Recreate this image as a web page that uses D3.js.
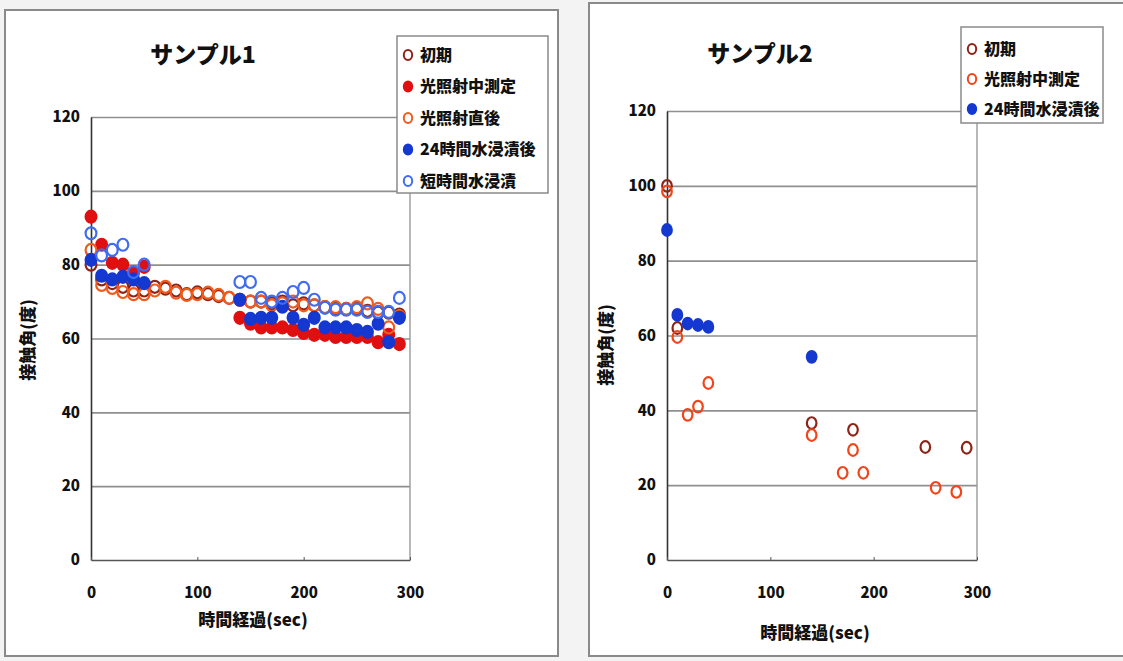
<!DOCTYPE html>
<html lang="ja">
<head>
<meta charset="utf-8">
<script src="https://cdn.jsdelivr.net/npm/d3@7"></script>
<style>
  html, body { margin: 0; padding: 0; background: #f3f3f3; }
  svg { display: block; }
  text { font-family: "Noto Sans CJK JP", "Noto Sans", sans-serif; font-weight: 900; fill: #111; }
</style>
</head>
<body>
<svg id="chart" width="1123" height="661"></svg>
<script>
// ---- Sample 1: contact angle measured every 10 s ----
const times1 = [0,10,20,30,40,50,60,70,80,90,100,110,120,130,140,150,160,170,180,190,200,210,220,230,240,250,260,270,280,290];
const s1Initial   = [80,76,75,74,73,73,74,73.5,73,72,72.5,72,71.5,71,70.5,70,70,69.5,70,69,69.5,69,68.5,68,68,68,67.5,67,67,66.5];
const s1DuringUV  = [93,85.4,80.5,80,77.8,79.4,null,null,null,null,null,null,null,null,65.6,64,63,63,63,62.3,61.5,61,61,60.4,60.4,60.4,60.4,59,61,58.5];
const s1AfterUV   = [84,74.5,73.7,72.6,72,72,73,74,72.4,71.8,72,72.4,71.8,71,70.5,70,70,69,69.5,70,69,69,68.5,68.5,68,68.5,69.5,68,63,66];
const s1Soak24h   = [81.3,77,76,76.7,76,75,null,null,null,null,null,null,null,null,70.5,65.3,65.6,65.6,68.6,65.6,63.7,65.6,63,63,63,62.3,61.8,64,59,65.6];
const s1SoakShort = [88.5,82.5,84,85.4,78,80,null,null,null,null,null,null,null,null,75.3,75.3,71,70,71,72.6,73.7,70.5,68.3,67.8,67.8,67.8,67.2,67.2,67.2,71];

// ---- Sample 2 ----
const s2InitialT  = [0,10,140,180,250,290];
const s2Initial   = [100,62,36.6,34.8,30.2,30];
const s2DuringUVT = [0,10,20,30,40,140,170,180,190,260,280];
const s2DuringUV  = [98.5,59.6,38.8,41,47.3,33.4,23.3,29.4,23.3,19.3,18.2];
const s2Soak24hT  = [0,10,20,30,40,140];
const s2Soak24h   = [88.2,65.5,63.2,62.8,62.3,54.3];

const yTicks = [0,20,40,60,80,100,120];
const xTicks = [0,100,200,300];
const xTitle = "時間経過(sec)";
const yTitle = "接触角(度)";

const names = ["初期","光照射中測定","光照射直後","24時間水浸漬後","短時間水浸漬"];
const styles = {
  "初期":         {fill:"none",    stroke:"#8e2418"},
  "光照射中測定": {fill:"#e01010", stroke:"#e01010"},
  "光照射直後":   {fill:"none",    stroke:"#f25a1c"},
  "24時間水浸漬後": {fill:"#1438d0", stroke:"#1438d0"},
  "短時間水浸漬": {fill:"none",    stroke:"#3f6cf0"}
};
const styles2 = {
  "初期":         {fill:"none",    stroke:"#8e2418"},
  "光照射中測定": {fill:"none",    stroke:"#f2441a"},
  "24時間水浸漬後": {fill:"#1438d0", stroke:"#1438d0"}
};

const svg = d3.select("#chart");

// chart frames
svg.append("rect").attr("x",5).attr("y",10).attr("width",553).attr("height",646)
  .attr("fill","#fff").attr("stroke","#8a8a8a").attr("stroke-width",2);
svg.append("rect").attr("x",589).attr("y",3).attr("width",560).attr("height",653)
  .attr("fill","#fff").attr("stroke","#8a8a8a").attr("stroke-width",2);

function panel(cfg) {
  const g = svg.append("g");
  const x = d3.scaleLinear().domain([0,300]).range([cfg.x0, cfg.x1]);
  const y = d3.scaleLinear().domain([0,120]).range([cfg.y0, cfg.y1]);

  // gridlines
  g.append("g").attr("transform",`translate(${cfg.x0},0)`)
    .call(d3.axisLeft(y).tickValues(yTicks.slice(1)).tickSize(-(cfg.x1-cfg.x0)).tickFormat(""))
    .call(a => a.select(".domain").remove())
    .call(a => a.selectAll("line").attr("stroke","#8f8f8f").attr("stroke-width",1.6));

  // right border of plot
  g.append("line").attr("x1",cfg.x1).attr("x2",cfg.x1).attr("y1",cfg.y1).attr("y2",cfg.y0)
    .attr("stroke","#9a9a9a").attr("stroke-width",1.4);

  // y axis
  g.append("g").attr("transform",`translate(${cfg.x0},0)`)
    .call(d3.axisLeft(y).tickValues(yTicks).tickSize(0).tickPadding(11))
    .call(a => a.select(".domain").attr("stroke","#333").attr("stroke-width",1.6))
    .call(a => a.selectAll("text").style("font-size","15px").attr("fill","#111"));

  // x axis
  g.append("g").attr("transform",`translate(0,${cfg.y0})`)
    .call(d3.axisBottom(x).tickValues(xTicks).tickSizeInner(-3).tickSizeOuter(0).tickPadding(27))
    .call(a => a.select(".domain").attr("stroke","#555").attr("stroke-width",1.6))
    .call(a => a.selectAll("line").attr("stroke","#555"))
    .call(a => a.selectAll("text").style("font-size","15px").attr("fill","#111"));

  // titles
  g.append("text").attr("x",cfg.titleX).attr("y",cfg.titleY).attr("text-anchor","middle")
    .style("font-size","23px").text(cfg.title);
  g.append("text").attr("x",cfg.xtX).attr("y",cfg.xtY).attr("text-anchor","middle")
    .style("font-size","17px").text(xTitle);
  g.append("text").attr("transform",`translate(${cfg.ytX},${cfg.ytY}) rotate(-90)`)
    .attr("text-anchor","middle").style("font-size","17px").text(yTitle);

  // markers
  cfg.series.forEach(s => {
    const pts = s.t.map((t,i) => ({t, v: s.v[i]})).filter(d => d.v != null);
    g.append("g").selectAll("ellipse").data(pts).join("ellipse")
      .attr("cx", d => x(d.t)).attr("cy", d => y(d.v))
      .attr("rx", cfg.rx).attr("ry", cfg.ry)
      .attr("fill", s.style.fill === "none" ? "#fff" : s.style.fill)
      .attr("fill-opacity", s.style.fill === "none" ? 0 : 1)
      .attr("stroke", s.style.stroke).attr("stroke-width", 2.2);
  });

  // legend
  const lg = g.append("g");
  lg.append("rect").attr("x",cfg.lx).attr("y",cfg.ly).attr("width",cfg.lw).attr("height",cfg.lh)
    .attr("fill","#fff").attr("stroke","#8a8a8a").attr("stroke-width",1.5);
  cfg.series.forEach((s,i) => {
    const cy = cfg.ly + cfg.lFirst + i*cfg.lStep;
    lg.append("ellipse").attr("cx",cfg.lx+11).attr("cy",cy).attr("rx",4.2).attr("ry",5)
      .attr("fill", s.style.fill === "none" ? "#fff" : s.style.fill)
      .attr("stroke", s.style.stroke).attr("stroke-width",2);
    lg.append("text").attr("x",cfg.lx+23).attr("y",cy).attr("dy","0.36em")
      .style("font-size","16px").text(s.name);
  });
}

panel({
  x0: 91, x1: 410, y0: 560, y1: 117,
  title: "サンプル1", titleX: 203, titleY: 63,
  xtX: 253, xtY: 626, ytX: 34, ytY: 340,
  rx: 5.4, ry: 6,
  lx: 397, ly: 36, lw: 151, lh: 157, lFirst: 19, lStep: 31.5,
  series: [
    {name: names[0], t: times1, v: s1Initial,   style: styles[names[0]]},
    {name: names[1], t: times1, v: s1DuringUV,  style: styles[names[1]]},
    {name: names[2], t: times1, v: s1AfterUV,   style: styles[names[2]]},
    {name: names[3], t: times1, v: s1Soak24h,   style: styles[names[3]]},
    {name: names[4], t: times1, v: s1SoakShort, style: styles[names[4]]}
  ]
});

panel({
  x0: 667, x1: 977, y0: 560, y1: 111,
  title: "サンプル2", titleX: 760, titleY: 62,
  xtX: 815, xtY: 639, ytX: 612, ytY: 345,
  rx: 4.8, ry: 5.8,
  lx: 961, ly: 27, lw: 142, lh: 96, lFirst: 22, lStep: 30,
  series: [
    {name: names[0], t: s2InitialT,  v: s2Initial,  style: styles2[names[0]]},
    {name: names[1], t: s2DuringUVT, v: s2DuringUV, style: styles2[names[1]]},
    {name: names[3], t: s2Soak24hT,  v: s2Soak24h,  style: styles2[names[3]]}
  ]
});
</script>
</body>
</html>
